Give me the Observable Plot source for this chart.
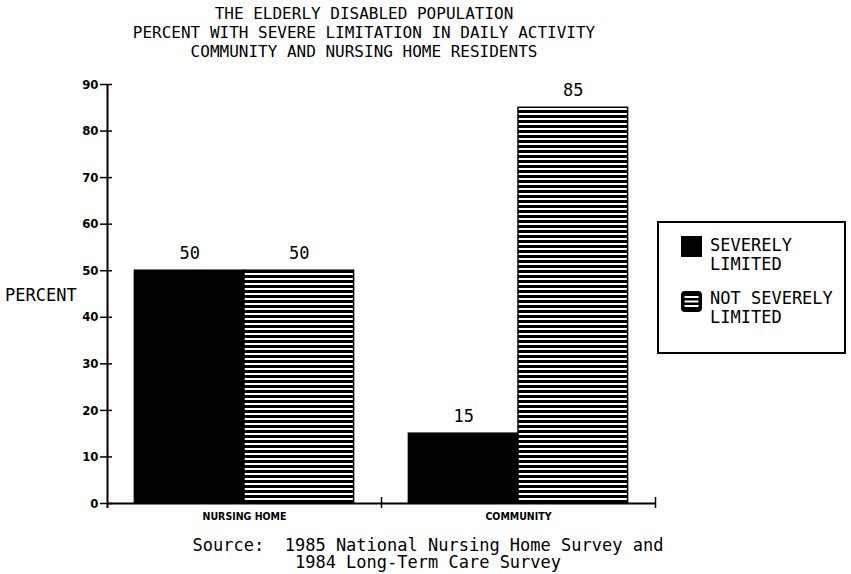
<!DOCTYPE html>
<html><head><meta charset="utf-8">
<script src="https://cdn.jsdelivr.net/npm/d3@7"></script>
<script src="https://cdn.jsdelivr.net/npm/@observablehq/plot@0.6"></script>
<style>
body{margin:0;background:#fff;}
#wrap{position:relative;width:851px;height:574px;overflow:hidden;font-family:"DejaVu Sans Mono",monospace;color:#000;}
#chart > svg{position:absolute;left:0;top:0;}
.abs{position:absolute;white-space:pre;}
#title{left:0;width:728px;top:4px;text-align:center;font-size:16px;line-height:19px;}
#caption{left:0;width:856px;top:537px;text-align:center;font-size:17px;line-height:17px;}
#ylabel{left:5px;top:286px;font-size:17px;line-height:19px;}
#legend{left:657px;top:221px;width:185px;height:129px;border:2px solid #000;}
#legend .lt{position:absolute;left:51px;font-size:17px;line-height:19px;white-space:pre;}
#legend .sw{position:absolute;left:22px;width:21px;height:21px;}
</style></head>
<body><div id="wrap">
<div id="chart"></div>
<div id="title" class="abs">THE ELDERLY DISABLED POPULATION
PERCENT WITH SEVERE LIMITATION IN DAILY ACTIVITY
COMMUNITY AND NURSING HOME RESIDENTS</div>
<div id="ylabel" class="abs">PERCENT</div>
<div id="caption" class="abs">Source:  1985 National Nursing Home Survey and
1984 Long-Term Care Survey</div>
<div id="legend" class="abs">
  <svg class="sw" style="top:13px" width="21" height="21"><rect x="0" y="0" width="21" height="21" fill="#000"/></svg>
  <div class="lt" style="top:13px">SEVERELY
LIMITED</div>
  <svg class="sw" style="top:68px" width="21" height="21"><rect x="1" y="1" width="19" height="19" rx="3" fill="#000" stroke="#000" stroke-width="2"/><rect x="3.5" y="5" width="14" height="2" fill="#fff"/><rect x="3.5" y="9.5" width="14" height="2" fill="#fff"/><rect x="3.5" y="14" width="14" height="2" fill="#fff"/></svg>
  <div class="lt" style="top:66px">NOT SEVERELY
LIMITED</div>
</div>
</div>
<script>
const categories = ["NURSING HOME", "COMMUNITY"];
const series = ["SEVERELY LIMITED", "NOT SEVERELY LIMITED"];
const severelyLimited = [50, 15];
const notSeverelyLimited = [50, 85];
const yTicks = [0, 10, 20, 30, 40, 50, 60, 70, 80, 90];

const rows = categories.flatMap((c, gi) => [
  {category: c, series: series[0], value: severelyLimited[gi], gi, si: 0},
  {category: c, series: series[1], value: notSeverelyLimited[gi], gi, si: 1}
]);
const pad = 0.1, bw = 0.4;
const mono = "DejaVu Sans Mono, monospace";
const cond = "DejaVu Sans Condensed, Liberation Sans Narrow, sans-serif";

const chart = Plot.plot({
  width: 851, height: 574,
  marginLeft: 107, marginRight: 196, marginTop: 84, marginBottom: 71,
  x: {domain: [0, categories.length], axis: null},
  y: {domain: [0, 90], axis: null},
  color: {domain: series, range: ["black", "url(#hstripes)"]},
  style: {background: "transparent", overflow: "visible", color: "black"},
  marks: [
    Plot.rect(rows, {
      x1: d => d.gi + pad + d.si * bw,
      x2: d => d.gi + pad + (d.si + 1) * bw,
      y1: 0, y2: "value",
      fill: "series", stroke: "black", strokeWidth: 1.5
    }),
    Plot.text(rows, {
      x: d => d.gi + pad + (d.si + 0.5) * bw,
      y: "value", text: d => String(d.value),
      dy: -17, fontSize: 17, fontFamily: mono, fill: "black"
    }),
    Plot.ruleX([0], {y1: 90, y2: 0, insetBottom: -5, strokeWidth: 2}),
    Plot.ruleY(yTicks, {x1: 0, x2: 0, insetLeft: -7, insetRight: -5, strokeWidth: 1.5}),
    Plot.axisY({ticks: yTicks, tickSize: 0, tickPadding: 9, fontSize: 13, fontWeight: "bold", fontFamily: cond, label: null}),
    Plot.ruleY([0], {x1: 0, x2: categories.length, strokeWidth: 2}),
    Plot.ruleX([1, 2], {y1: 0, y2: 0, insetTop: -6, insetBottom: -5, strokeWidth: 1.5}),
    Plot.axisX({ticks: [0.5, 1.5], tickSize: 0, tickPadding: 9, tickFormat: v => categories[Math.floor(v)], fontSize: 10.5, fontWeight: "bold", fontFamily: cond, label: null})
  ]
});
d3.select(chart).insert("defs", ":first-child").html(
  '<pattern id="hstripes" patternUnits="userSpaceOnUse" width="10" height="5">' +
  '<rect width="10" height="5" fill="black"/><rect y="3" width="10" height="2" fill="white"/></pattern>'
);
document.getElementById("chart").appendChild(chart);
</script>
</body></html>
